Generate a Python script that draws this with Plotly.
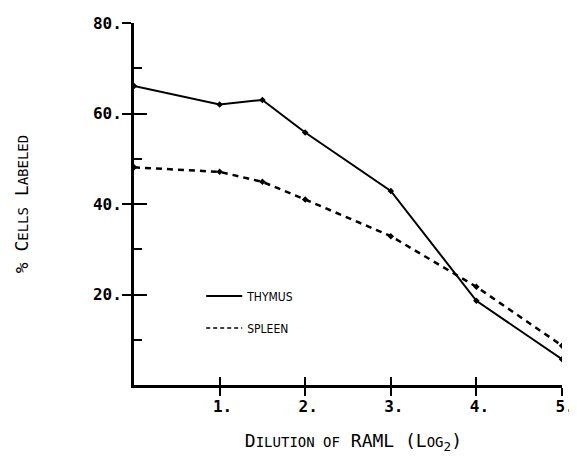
import plotly.graph_objects as go

dilution = [0, 1, 1.5, 2, 3, 4, 5]
thymus = [66.1, 62.0, 63.0, 55.8, 42.9, 18.6, 5.7]
spleen = [48.1, 47.1, 44.9, 41.0, 32.9, 21.7, 8.7]
y_ticks = [20, 40, 60, 80]
y_tick_labels = ["20.", "40.", "60.", "80."]
x_ticks = [1, 2, 3, 4, 5]
x_tick_labels = ["1.", "2.", "3.", "4.", "5."]

fig = go.Figure()
fig.add_trace(go.Scatter(x=dilution, y=thymus, name="THYMUS", mode="lines+markers",
                         line=dict(color="black", width=2), showlegend=False,
                         marker=dict(symbol="diamond", size=5, color="black")))
fig.add_trace(go.Scatter(x=dilution, y=spleen, name="SPLEEN", mode="lines+markers",
                         line=dict(color="black", width=2.5, dash="6px,5px"), showlegend=False,
                         marker=dict(symbol="diamond", size=5, color="black")))
# legend entries (lines only, as in the reference)
fig.add_trace(go.Scatter(x=[None], y=[None], name="THYMUS", mode="lines", legendgroup="a",
                         line=dict(color="black", width=2)))
fig.add_trace(go.Scatter(x=[None], y=[None], name="SPLEEN", mode="lines", legendgroup="b",
                         line=dict(color="black", width=1.5, dash="4px,3px")))
# helper trace so the overlaid axes (inner tick halves) are drawn
fig.add_trace(go.Scatter(x=dilution, y=thymus, xaxis="x2", yaxis="y2", mode="lines",
                         line=dict(color="rgba(0,0,0,0)"), showlegend=False, hoverinfo="skip"))

tickfont = dict(family="DejaVu Sans Mono", size=16, color="black", weight="bold")
# the page body has an 8px margin, so the figure is sized/placed to compensate
fig.update_layout(
    width=569, height=457,
    margin=dict(l=126, r=15, t=15, b=80),
    plot_bgcolor="white", paper_bgcolor="white",
    showlegend=True,
    legend=dict(x=0.157, y=0.286, xanchor="left", yanchor="top",
                font=dict(family="DejaVu Sans Condensed", size=12, color="black"),
                bgcolor="rgba(0,0,0,0)", itemwidth=36, tracegroupgap=13),
    xaxis=dict(range=[0, 5], showgrid=False, zeroline=False, showline=True, automargin=False,
               linecolor="black", linewidth=3, ticks="outside", ticklen=8,
               tickwidth=2, tickcolor="black", tickvals=x_ticks, ticktext=x_tick_labels,
               tickfont=tickfont, ticklabelstandoff=-3, ticklabelshift=3,
               title=dict(text="&nbsp;D<span style='font-size:14px'>ILUTION OF</span> RAML (L<span style='font-size:14px'>OG</span><sub>2</sub>)",
                          font=dict(family="DejaVu Sans Mono", size=18, color="black"),
                          standoff=20)),
    yaxis=dict(range=[0, 80], showgrid=False, zeroline=False, showline=True, automargin=False,
               linecolor="black", linewidth=3, ticks="outside", ticklen=9,
               tickwidth=2, tickcolor="black", tickvals=y_ticks, ticktext=y_tick_labels,
               tickfont=tickfont, ticklabelstandoff=-3,
               title=dict(text="% C<span style='font-size:14px'>ELLS</span> L<span style='font-size:14px'>ABELED</span>",
                          font=dict(family="DejaVu Sans Mono", size=18, color="black"),
                          standoff=60)),
    xaxis2=dict(range=[0, 5], overlaying="x", anchor="y2", showgrid=False, zeroline=False,
                showline=False, ticks="inside", ticklen=8, tickwidth=2, tickcolor="black",
                tickvals=x_ticks, showticklabels=False, automargin=False),
    yaxis2=dict(range=[0, 80], overlaying="y", anchor="x2", side="left", showgrid=False,
                zeroline=False, showline=False, ticks="inside", ticklen=13, tickwidth=2,
                tickcolor="black", tickvals=y_ticks, showticklabels=False, automargin=False,
                minor=dict(tickvals=[10, 30, 50, 70], ticks="inside", ticklen=8,
                           tickwidth=2, tickcolor="black")),
)

fig.write_html("out.html")
